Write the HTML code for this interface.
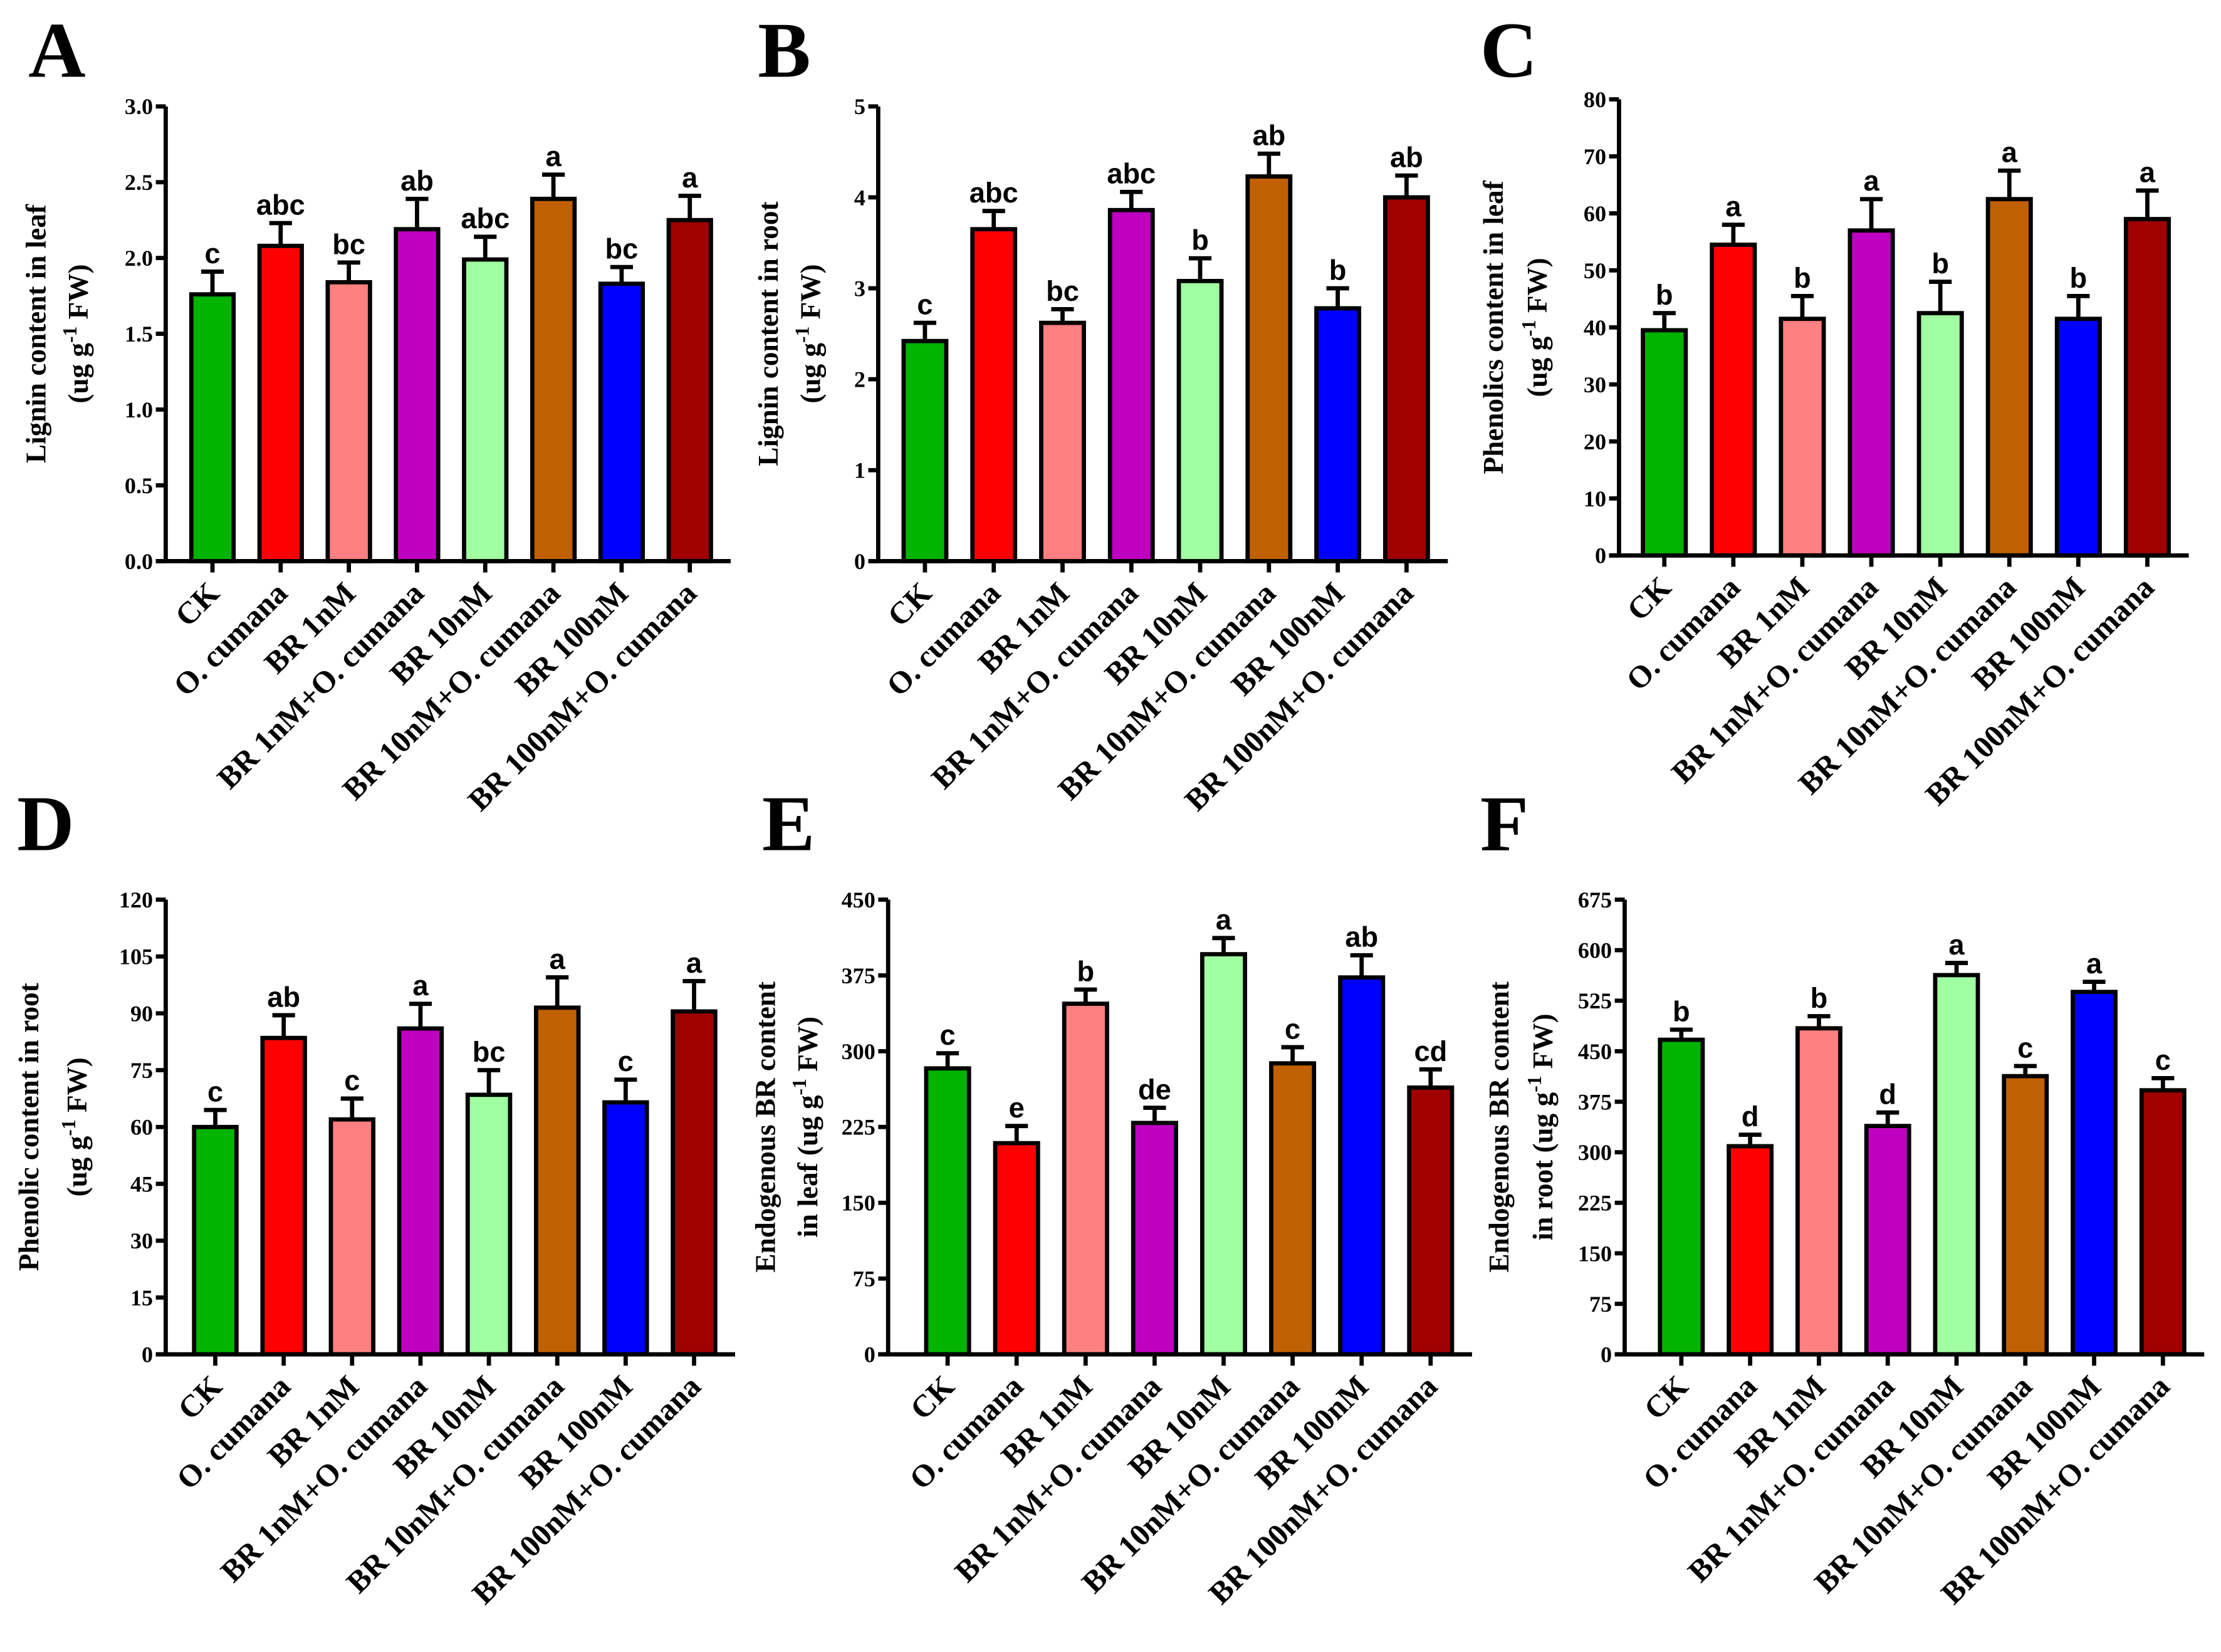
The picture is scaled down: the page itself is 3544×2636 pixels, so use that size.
<!DOCTYPE html>
<html><head><meta charset="utf-8"><style>
html,body{margin:0;padding:0;background:#fff;width:3544px;height:2636px;overflow:hidden}
svg{display:block}
.tk{font-family:"Liberation Serif",serif;font-weight:bold;font-size:16px}
.yt{font-family:"Liberation Serif",serif;font-weight:bold;font-size:20px}
.xl{font-family:"Liberation Serif",serif;font-weight:bold;font-size:22px}
.lt{font-family:"Liberation Sans",sans-serif;font-weight:bold;font-size:20px}
.pl{font-family:"Liberation Serif",serif;font-weight:bold;font-size:56px}
</style></head><body>
<svg id="fig" width="3544" height="2636" viewBox="0 0 1568 1166" xmlns="http://www.w3.org/2000/svg"></svg>
<script>
const categories = ["CK","O. cumana","BR 1nM","BR 1nM+O. cumana","BR 10nM","BR 10nM+O. cumana","BR 100nM","BR 100nM+O. cumana"];
const barColors = ["#00b400","#ff0000","#ff8080","#c000c0","#a0ffa0","#c06000","#0000ff","#a00000"];

const valuesA = [1.76,2.08,1.84,2.19,1.99,2.39,1.83,2.25];
const errorsA = [0.15,0.15,0.13,0.2,0.15,0.16,0.11,0.16];
const lettersA = ["c","abc","bc","ab","abc","a","bc","a"];
const ticksA = ["0.0","0.5","1.0","1.5","2.0","2.5","3.0"];

const valuesB = [2.42,3.65,2.62,3.86,3.08,4.23,2.78,4.0];
const errorsB = [0.2,0.2,0.15,0.2,0.25,0.25,0.22,0.24];
const lettersB = ["c","abc","bc","abc","b","ab","b","ab"];
const ticksB = ["0","1","2","3","4","5"];

const valuesC = [39.5,54.5,41.5,57,42.5,62.5,41.5,59];
const errorsC = [3,3.5,4,5.5,5.5,5,4,5];
const lettersC = ["b","a","b","a","b","a","b","a"];
const ticksC = ["0","10","20","30","40","50","60","70","80"];

const valuesD = [60,83.5,62,86,68.5,91.5,66.5,90.5];
const errorsD = [4.5,6,5.5,6.5,6.5,8,6,8];
const lettersD = ["c","ab","c","a","bc","a","c","a"];
const ticksD = ["0","15","30","45","60","75","90","105","120"];

const valuesE = [283,209,347,229,396,288,373,264];
const errorsE = [15,17,14,15,16,16,22,18];
const lettersE = ["c","e","b","de","a","c","ab","cd"];
const ticksE = ["0","75","150","225","300","375","450"];

const valuesF = [467,309,484,339,563,413,538,392];
const errorsF = [15,17,18,20,18,15,15,18];
const lettersF = ["b","d","b","d","a","c","a","c"];
const ticksF = ["0","75","150","225","300","375","450","525","600","675"];

const NS="http://www.w3.org/2000/svg";
const svg=document.getElementById('fig');
function mk(tag,attrs,parent){const e=document.createElementNS(NS,tag);for(const k in attrs)e.setAttribute(k,attrs[k]);(parent||svg).appendChild(e);return e;}

const panels=[
 {id:"a",label:"A",lx:20,ly:54,ax:117,top:75,zero:396,first:150,last:487,vals:valuesA,errs:errorsA,lets:lettersA,ticks:ticksA,t1:"Lignin content in leaf",t2:"(ug g",t3:" FW)",o1:-85,o2:-55},
 {id:"b",label:"B",lx:535,ly:54,ax:620,top:75,zero:396,first:653,last:993,vals:valuesB,errs:errorsB,lets:lettersB,ticks:ticksB,t1:"Lignin content in root",t2:"(ug g",t3:" FW)",o1:-71,o2:-41},
 {id:"c",label:"C",lx:1045,ly:54,ax:1143,top:70,zero:392,first:1175,last:1516,vals:valuesC,errs:errorsC,lets:lettersC,ticks:ticksC,t1:"Phenolics content in leaf",t2:"(ug g",t3:" FW)",o1:-82,o2:-51},
 {id:"d",label:"D",lx:12,ly:600,ax:117,top:635,zero:956,first:152,last:490,vals:valuesD,errs:errorsD,lets:lettersD,ticks:ticksD,t1:"Phenolic content in root",t2:"(ug g",t3:" FW)",o1:-90,o2:-56},
 {id:"e",label:"E",lx:538,ly:600,ax:627,top:635,zero:956,first:669,last:1010,vals:valuesE,errs:errorsE,lets:lettersE,ticks:ticksE,t1:"Endogenous BR content",t2:"in leaf (ug g",t3:" FW)",o1:-80,o2:-50},
 {id:"f",label:"F",lx:1045,ly:600,ax:1147,top:635,zero:956,first:1187,last:1527,vals:valuesF,errs:errorsF,lets:lettersF,ticks:ticksF,t1:"Endogenous BR content",t2:"in root (ug g",t3:" FW)",o1:-82,o2:-51}
];

panels.forEach(p=>{
  const g=mk('g',{});
  
  
  const maxV=parseFloat(p.ticks[p.ticks.length-1]);
  const y=v=>p.zero-(v/maxV)*(p.zero-p.top);
  const step=(p.last-p.first)/(categories.length-1);
  const x=i=>p.first+i*step;
  const bw=step*0.62;
  const pl=mk('text',{x:p.lx,y:p.ly,class:'pl'},g);pl.textContent=p.label;
  
  
  const cy=(p.top+p.zero)/2;
  const t1=mk('text',{x:0,y:0,class:'yt','text-anchor':'middle',transform:`translate(${p.ax+p.o1},${cy}) rotate(-90)`},g);
  t1.textContent=p.t1;
  
  
  const t2=mk('text',{x:0,y:0,class:'yt','text-anchor':'middle',transform:`translate(${p.ax+p.o2},${cy}) rotate(-90)`},g);
  t2.appendChild(document.createTextNode(p.t2));
  const sup=mk('tspan',{dy:-8,'font-size':'14px'},t2);sup.textContent='-1';
  const rest=mk('tspan',{dy:8},t2);rest.textContent=p.t3;
  
  
  p.vals.forEach((v,i)=>{
    const cx=x(i), yt=y(v), ye=y(v+p.errs[i]);
    const eb=mk('path',{d:`M${cx},${yt} L${cx},${ye} M${cx-8},${ye} L${cx+8},${ye}`,stroke:'#000','stroke-width':3,fill:'none'},g);
    
    
    const r=mk('rect',{x:cx-bw/2,y:yt,width:bw,height:p.zero-yt,fill:barColors[i],stroke:'#000','stroke-width':3},g);
    
    
    const lt=mk('text',{x:cx,y:ye-6,class:'lt','text-anchor':'middle'},g);lt.textContent=p.lets[i];
    
    
    const tk=mk('line',{x1:cx,y1:p.zero,x2:cx,y2:p.zero+8,stroke:'#000','stroke-width':3},g);
    
    
    const xl=mk('text',{x:0,y:0,class:'xl','text-anchor':'end',transform:`translate(${cx+6},${p.zero+24}) rotate(-45)`},g);
    xl.textContent=categories[i];
    
    
  });
  const ya=mk('line',{x1:p.ax,y1:p.top,x2:p.ax,y2:p.zero+1,stroke:'#000','stroke-width':3},g);
  
  
  const xa=mk('line',{x1:p.ax-7,y1:p.zero,x2:p.last+step*0.6,y2:p.zero,stroke:'#000','stroke-width':3},g);
  
  
  p.ticks.forEach(t=>{
    const v=parseFloat(t), yy=y(v);
    const tl=mk('line',{x1:p.ax-7,y1:yy,x2:p.ax,y2:yy,stroke:'#000','stroke-width':3},g);
    
    
    const tx=mk('text',{x:p.ax-9,y:yy+5.5,class:'tk','text-anchor':'end'},g);tx.textContent=t;
    
    
  });
});
</script>
</body></html>
